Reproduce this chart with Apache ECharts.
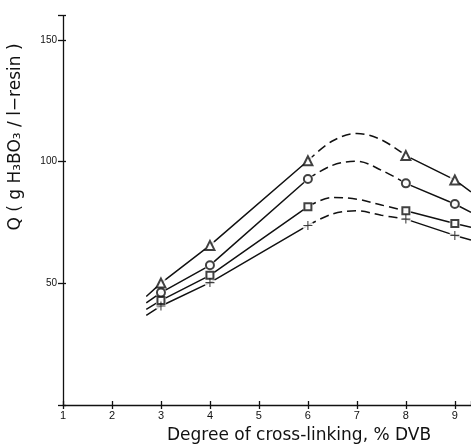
<!DOCTYPE html>
<html>
<head>
<meta charset="utf-8">
<script src="https://cdn.jsdelivr.net/npm/echarts@6/dist/echarts.min.js"></script>
<style>html,body{margin:0;padding:0;background:#fff}#c{width:471px;height:446px}</style>
</head>
<body>
<div id="c"></div>
<script>
// Measured points (% DVB vs Q)
const measuredX = [3, 4, 6, 8, 9];
const triangleQ = [50.1, 65.6, 100.4, 102.5, 92.5];
const circleQ   = [46.2, 57.4, 92.9, 91.1, 82.6];
const squareQ   = [43.0, 53.3, 81.5, 79.8, 74.6];
const plusQ     = [40.7, 50.3, 73.8, 76.4, 69.7];

// Line extension to the left of first point
const leftX = 2.7;
const triangleLeft = 44.6, circleLeft = 42.0, squareLeft = 39.3, plusLeft = 36.8;

// Dashed (estimated) maximum region
const peakX = [6.5, 7, 7.5];
const trianglePeak = [108.5, 111.6, 109.0];
const circlePeak   = [98.5, 100.2, 96.5];
const squarePeak   = [85.3, 84.6, 82.2];
const plusPeak     = [78.5, 79.8, 78.0];

// Line extension to the right edge
const rightX = 9.33;
const triangleRight = 87.6, circleRight = 79.2, squareRight = 73.0, plusRight = 67.8;

// Axis ticks
const xTicks = [1, 2, 3, 4, 5, 6, 7, 8, 9];
const yTickLabels = [50, 100, 150];

const ink = '#111';
const font = 'Liberation Sans';

function leftSeg(q, l) { return [[leftX, l], [measuredX[0], q[0]], [measuredX[1], q[1]], [measuredX[2], q[2]]]; }
function dashSeg(q, p) { return [[measuredX[2], q[2]]].concat(peakX.map((x, i) => [x, p[i]])).concat([[measuredX[3], q[3]]]); }
function rightSeg(q, r) { return [[measuredX[3], q[3]], [measuredX[4], q[4]], [rightX, r]]; }
function pts(q) { return measuredX.map((x, i) => [x, q[i]]); }

const lineBase = { type: 'line', showSymbol: false, symbol: 'none', z: 2, animation: false, silent: true };
function curves(q, l, p, r) {
  return [
    Object.assign({}, lineBase, { data: leftSeg(q, l), lineStyle: { color: ink, width: 1.5 } }),
    Object.assign({}, lineBase, { data: dashSeg(q, p), smooth: 0.35, lineStyle: { color: ink, width: 1.5, type: [9, 5] } }),
    Object.assign({}, lineBase, { data: rightSeg(q, r), lineStyle: { color: ink, width: 1.5 } })
  ];
}
function halo(q) {
  return { type: 'scatter', data: pts(q), symbol: 'circle', symbolSize: 11, z: 3, animation: false, silent: true,
    itemStyle: { color: '#fff' } };
}
function marks(q, sym, size, filled) {
  return { type: 'scatter', data: pts(q), symbol: sym, symbolSize: size, z: 4, animation: false, silent: true,
    itemStyle: filled ? { color: ink } : { color: ink, borderColor: ink, borderWidth: 1.1 } };
}
const plusPath = 'path://M4.4,0h1.2v4.4h4.4v1.2h-4.4v4.4h-1.2v-4.4h-4.4v-1.2h4.4z';

const series = []
  .concat(curves(triangleQ, triangleLeft, trianglePeak, triangleRight))
  .concat(curves(circleQ, circleLeft, circlePeak, circleRight))
  .concat(curves(squareQ, squareLeft, squarePeak, squareRight))
  .concat(curves(plusQ, plusLeft, plusPeak, plusRight))
  .concat([halo(triangleQ), halo(circleQ), halo(squareQ), halo(plusQ)])
  .concat([
    marks(triangleQ, 'emptyTriangle', 9, false),
    marks(circleQ, 'emptyCircle', 8, false),
    marks(squareQ, 'emptyRect', 7, false),
    marks(plusQ, plusPath, 9, true)
  ]);

const xMin = 1, xMax = rightX;
const commonX = { type: 'value', min: xMin, max: xMax, interval: 1, splitLine: { show: false } };
const commonY = { type: 'value', min: 0, max: 160, interval: 50, splitLine: { show: false } };

const chart = echarts.init(document.getElementById('c'), null, { renderer: 'canvas' });
chart.setOption({
  backgroundColor: '#fff',
  animation: false,
  grid: { left: 63, right: 0, top: 15.7, bottom: 41, containLabel: false },
  xAxis: [
    Object.assign({}, commonX, {
      axisLine: { show: true, lineStyle: { color: ink, width: 1.3 } },
      axisTick: { show: true, length: 4, lineStyle: { color: ink, width: 1.3 } },
      axisLabel: { show: true, color: ink, fontFamily: font, fontSize: 11, margin: 5, showMaxLabel: false,
        formatter: v => (xTicks.indexOf(v) >= 0 ? String(v) : '') }
    }),
    Object.assign({}, commonX, {
      position: 'bottom',
      axisLine: { show: false },
      axisTick: { show: true, inside: true, length: 4, lineStyle: { color: ink, width: 1.3 } },
      axisLabel: { show: false }
    })
  ],
  yAxis: [
    Object.assign({}, commonY, {
      axisLine: { show: true, lineStyle: { color: ink, width: 1.3 } },
      axisTick: { show: true, length: 5, lineStyle: { color: ink, width: 1.3 } },
      axisLabel: { show: true, color: ink, fontFamily: font, fontSize: 10, margin: 6,
        formatter: v => (yTickLabels.indexOf(v) >= 0 ? String(v) : '') }
    }),
    Object.assign({}, commonY, {
      position: 'left',
      axisLine: { show: false },
      axisTick: { show: true, inside: true, length: 3, lineStyle: { color: ink, width: 1.3 } },
      axisLabel: { show: false }
    })
  ],
  graphic: [
    { type: 'text', left: 167, top: 427, silent: true,
      style: { text: 'Degree of cross-linking, % DVB', fill: ink, font: '17px "DejaVu Sans"' } },
    { type: 'text', x: 16, y: 137, rotation: Math.PI / 2, silent: true,
      style: { text: 'Q ( g H₃BO₃ / l−resin )', fill: ink, font: '17px "DejaVu Sans"', textAlign: 'center', textVerticalAlign: 'middle' } }
  ],
  series: series
});
</script>
</body>
</html>
